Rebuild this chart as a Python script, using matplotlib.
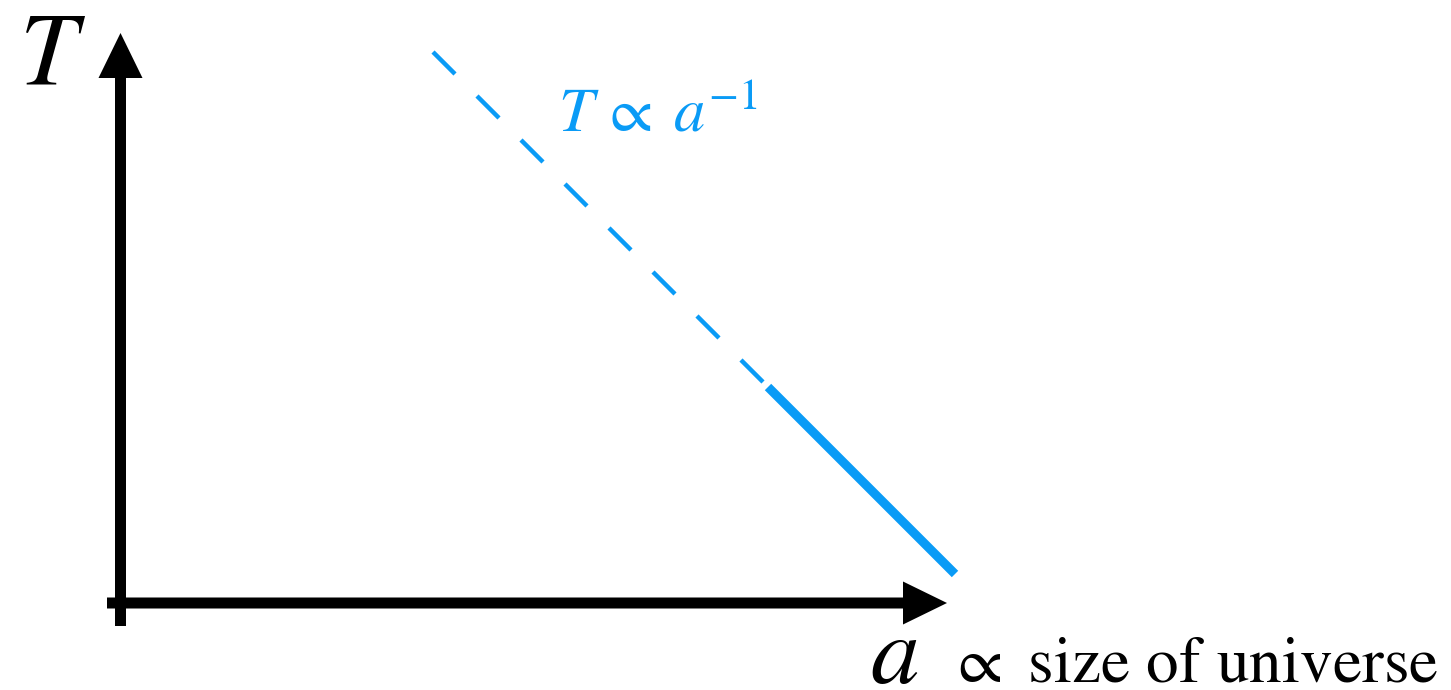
import matplotlib
matplotlib.use("Agg")
from matplotlib import pyplot as plt

plt.rcParams['mathtext.fontset'] = 'stix'
plt.rcParams['font.family'] = ['STIXGeneral', 'DejaVu Serif']

# schematic T vs a (1 unit = 100 px in both directions)
a_dashed = [3.13, 6.50]
T_dashed = [5.51, 2.14]
a_solid = [6.48, 8.35]
T_solid = [2.16, 0.29]

blue = '#0A9BF6'

fig = plt.figure(figsize=(14.51, 6.90), dpi=100)
ax = fig.add_axes([0, 0, 1, 1])
ax.set_xlim(-1.20, 13.31)
ax.set_ylim(-0.87, 6.03)
ax.axis('off')

# axes arrows
ax.arrow(0.005, -0.23, 0, 5.93, width=0.11, head_width=0.44, head_length=0.45,
         length_includes_head=True, fc='black', ec='none')
ax.arrow(-0.13, 0, 8.40, 0, width=0.11, head_width=0.43, head_length=0.44,
         length_includes_head=True, fc='black', ec='none')

# T ~ 1/a line
ax.plot(a_dashed, T_dashed, color=blue, lw=3.2, dashes=(7.0, 7.0),
        dash_capstyle='butt')
ax.plot(a_solid, T_solid, color=blue, lw=6.5, solid_capstyle='butt')

# labels
ax.text(-0.67, 5.19, '$T$', fontsize=74, ha='center', va='baseline')
ax.text(4.38, 4.71, r'$T\,\propto\;a^{-1}$', fontsize=45, color=blue,
        ha='left', va='baseline')
ax.text(7.50, -0.80, '$a$', fontsize=70, ha='left', va='baseline')
ax.text(8.28, -0.79, r'$\propto$ size of universe', fontsize=47,
        ha='left', va='baseline')

fig.savefig('out.png', dpi=100)
